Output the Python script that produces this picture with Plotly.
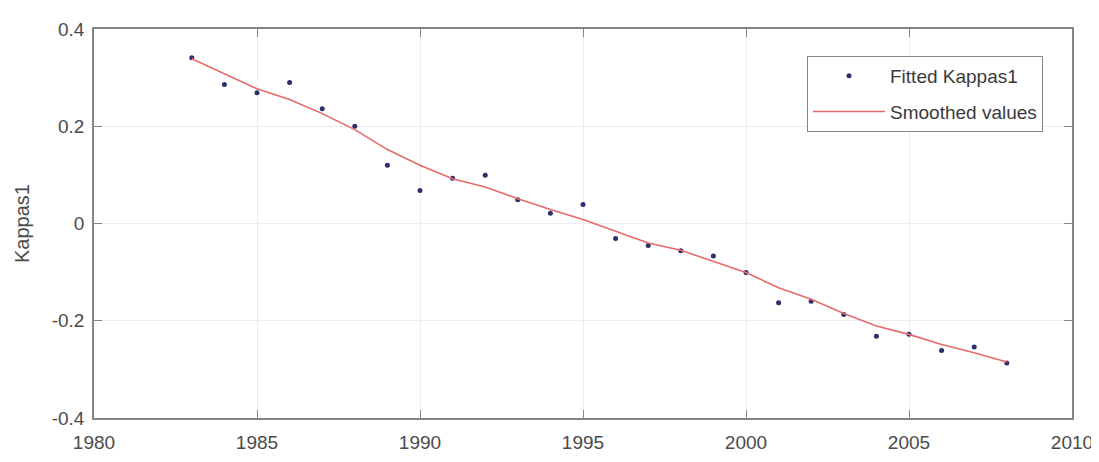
import plotly.graph_objects as go

years = list(range(1983, 2009))
fitted_kappa = [0.341, 0.286, 0.269, 0.290, 0.236, 0.200, 0.120, 0.068, 0.093, 0.099,
                0.049, 0.021, 0.039, -0.031, -0.045, -0.056, -0.067, -0.101, -0.163, -0.160,
                -0.187, -0.232, -0.228, -0.261, -0.254, -0.287]
smoothed = [0.339, 0.308, 0.277, 0.255, 0.226, 0.193, 0.152, 0.120, 0.092, 0.075,
            0.051, 0.029, 0.008, -0.016, -0.040, -0.055, -0.078, -0.101, -0.132, -0.156,
            -0.185, -0.211, -0.228, -0.249, -0.266, -0.285]
x_ticks = [1980, 1985, 1990, 1995, 2000, 2005, 2010]
y_ticks = [-0.4, -0.2, 0, 0.2, 0.4]
y_tick_text = ["-0.4", "-0.2", "0", "0.2", "0.4"]

FONT = "Liberation Sans, Arial, sans-serif"
# page body has an 8px margin, so the figure is drawn 8px smaller and all
# pixel positions below are given in page coordinates, shifted by OFF.
OFF = 8
W, H = 1099 - OFF, 462 - OFF
ml, mr, mt, mb = 94 - OFF, 27, 29 - OFF, 44
pw, ph = W - ml - mr, H - mt - mb

def px_to_paper_x(px):
    return (px - OFF - ml) / pw

def px_to_paper_y(py):
    return (H - mb - (py - OFF)) / ph

fig = go.Figure()
fig.add_trace(go.Scatter(
    x=years, y=fitted_kappa, mode="markers", name="Fitted Kappas1",
    legendgroup="a",
    marker=dict(size=5, color="#2b2f6e"),
))
fig.add_trace(go.Scatter(
    x=years, y=smoothed, mode="lines", name="Smoothed values",
    legendgroup="b",
    line=dict(color="#e66a6a", width=1.6),
))

axis_common = dict(
    showline=True, linecolor="#858585", linewidth=1.5, mirror="ticks",
    ticks="inside", ticklen=8, tickcolor="#858585", tickwidth=1.2,
    showgrid=True, gridcolor="#ececec", gridwidth=1, zeroline=False,
    tickfont=dict(family=FONT, size=19, color="#4a4a4a"),
)
fig.update_xaxes(range=[1980, 2010], tickvals=x_ticks, ticklabelstandoff=6, **axis_common)
fig.update_yaxes(range=[-0.4, 0.4], tickvals=y_ticks, ticktext=y_tick_text,
                 ticklabelstandoff=4, **axis_common)

fig.update_layout(
    width=W, height=H,
    margin=dict(l=ml, r=mr, t=mt, b=mb, autoexpand=False),
    paper_bgcolor="white", plot_bgcolor="white",
    font=dict(family=FONT, color="#4a4a4a"),
    showlegend=True,
    legend=dict(
        x=px_to_paper_x(807), y=px_to_paper_y(56), xanchor="left", yanchor="top",
        bgcolor="white", bordercolor="#858585", borderwidth=1,
        font=dict(family=FONT, size=19, color="#3a3a3a"),
        itemwidth=72, traceorder="grouped", tracegroupgap=8,
    ),
    annotations=[dict(
        text="Kappas1", textangle=-90, xref="paper", yref="paper",
        x=px_to_paper_x(22), y=px_to_paper_y(224), xanchor="center", yanchor="middle",
        showarrow=False, font=dict(family=FONT, size=20, color="#4a4a4a"),
    )],
)

fig.write_html("out.html")
